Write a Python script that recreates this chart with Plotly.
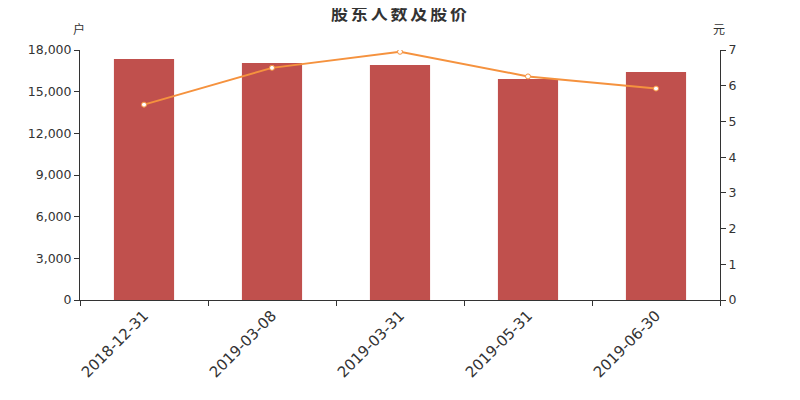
import plotly.graph_objects as go

categories = ["2018-12-31", "2019-03-08", "2019-03-31", "2019-05-31", "2019-06-30"]
holders = [17350, 17060, 16920, 15910, 16410]
prices = [5.47, 6.50, 6.95, 6.26, 5.92]
left_ticks = [0, 3000, 6000, 9000, 12000, 15000, 18000]
right_ticks = [0, 1, 2, 3, 4, 5, 6, 7]
title_text = "股东人数及股价"

font = "DejaVu Sans"
cjk = "Noto Sans CJK SC"
axcol = "#333333"

fig = go.Figure()
fig.add_trace(go.Bar(x=categories, y=holders, marker=dict(color="#c0504d", line=dict(width=0)),
                     width=0.47, yaxis="y", name="股东人数"))
fig.add_trace(go.Scatter(x=categories, y=prices, yaxis="y2", mode="lines+markers",
                         line=dict(color="#f5923e", width=2),
                         marker=dict(color="white", size=5, line=dict(color="#f5923e", width=1)),
                         name="股价"))

# the page body has an 8px margin, so the figure is drawn 8px smaller and offset
fig.update_layout(
    width=792, height=392,
    margin=dict(l=72, r=80, t=42, b=100),
    plot_bgcolor="white", paper_bgcolor="white",
    showlegend=False,
    font=dict(family=font, color=axcol, size=12.5),
    title=dict(text="<b>" + "\u2006".join(title_text) + "</b>", x=0.4937, xanchor="center",
               y=0.985, yanchor="middle",
               font=dict(size=17, color="#333333", family=cjk)),
    xaxis=dict(type="category", showline=True, linecolor=axcol, linewidth=1,
               ticks="outside", tickson="boundaries", ticklen=5, tickcolor=axcol,
               tickangle=-45, tickfont=dict(size=15, color=axcol, family=font),
               showgrid=False, automargin=False),
    yaxis=dict(range=[0, 18000], tickvals=left_ticks, tickformat=",d", showline=True,
               linecolor=axcol, ticks="outside", ticklen=5, tickcolor=axcol,
               showgrid=False, zeroline=False, automargin=False,
               tickfont=dict(size=12.5, color=axcol, family=font)),
    yaxis2=dict(range=[0, 7], tickvals=right_ticks, overlaying="y", side="right",
                showline=True, linecolor=axcol, ticks="outside", ticklen=5, tickcolor=axcol,
                showgrid=False, zeroline=False, automargin=False,
                tickfont=dict(size=12.5, color=axcol, family=font)),
)
fig.add_annotation(text="户", xref="paper", yref="paper", x=0, y=1.0, yshift=22, xshift=-1,
                   xanchor="center", yanchor="middle", showarrow=False,
                   font=dict(size=12, color=axcol, family=cjk))
fig.add_annotation(text="元", xref="paper", yref="paper", x=1.0, y=1.0, yshift=22, xshift=-1,
                   xanchor="center", yanchor="middle", showarrow=False,
                   font=dict(size=12, color=axcol, family=cjk))

fig.write_html("out.html")
